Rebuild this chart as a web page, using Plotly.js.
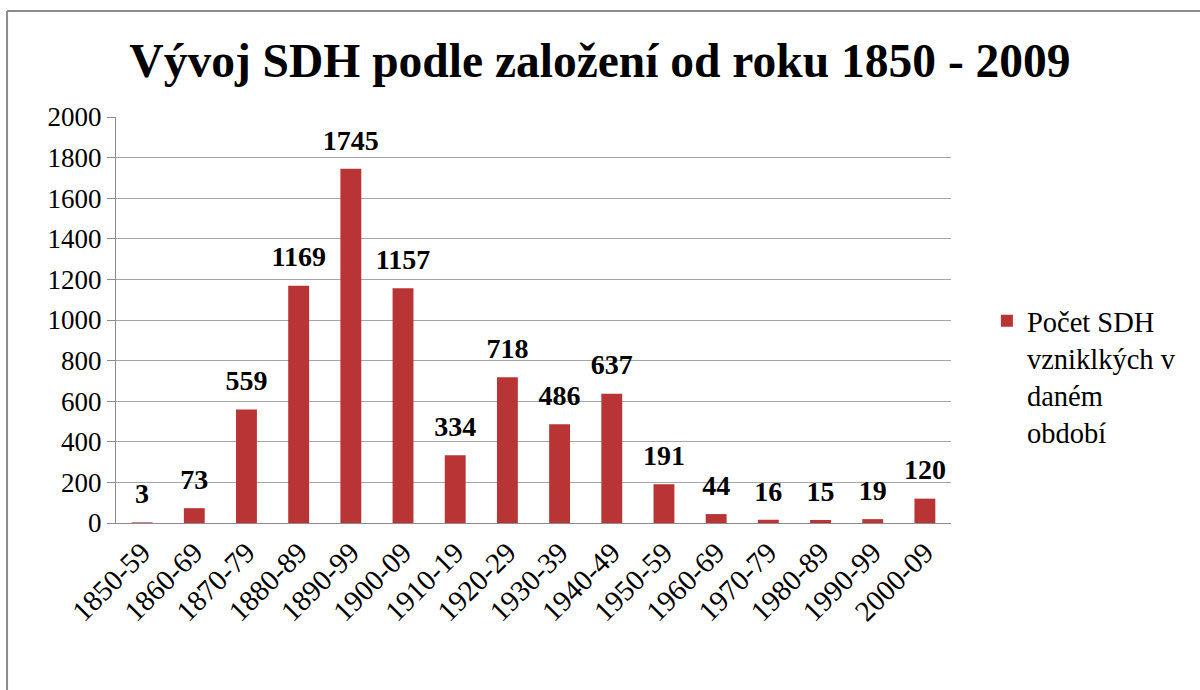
<!DOCTYPE html>
<html>
<head>
<meta charset="utf-8">
<script src="https://cdn.plot.ly/plotly-3.0.1.min.js"></script>
<style>html,body{margin:0;padding:0;background:#fff;}#chart{width:1200px;height:690px;}</style>
</head>
<body>
<div id="chart"></div>
<script>
var categories = ["1850-59","1860-69","1870-79","1880-89","1890-99","1900-09","1910-19","1920-29","1930-39","1940-49","1950-59","1960-69","1970-79","1980-89","1990-99","2000-09"];
var counts = [3, 73, 559, 1169, 1745, 1157, 334, 718, 486, 637, 191, 44, 16, 15, 19, 120];
var seriesName = "Počet SDH<br>vzniklkých v<br>daném<br>období";
var yTicks = [0, 200, 400, 600, 800, 1000, 1200, 1400, 1600, 1800, 2000];

var serif = "Liberation Serif";

var bars = {
  type: "bar",
  x: categories,
  y: counts,
  name: seriesName,
  marker: {color: "#b83435", line: {width: 0}},
  showlegend: true
};

var labels = {
  type: "scatter",
  mode: "markers+text",
  x: categories,
  y: counts,
  text: counts.map(String),
  textposition: "top center",
  cliponaxis: false,
  textfont: {family: serif, size: 28, color: "#000", weight: "bold"},
  marker: {size: 18, color: "rgba(0,0,0,0)"},
  showlegend: false,
  hoverinfo: "skip"
};

var layout = {
  width: 1200, height: 690,
  font: {family: serif, size: 27, color: "#000"},
  paper_bgcolor: "#fff", plot_bgcolor: "#fff",
  margin: {l: 116, r: 249, t: 117, b: 167},
  title: {text: "<b>Vývoj SDH podle založení od roku 1850 - 2009</b>",
          font: {family: serif, size: 47.5, color: "#000"},
          x: 0.5, xanchor: "center", y: 0.913, yanchor: "middle"},
  bargap: 0.6,
  xaxis: {
    type: "category",
    range: [-0.5, 15.5],
    tickangle: -45,
    tickfont: {family: serif, size: 29, color: "#000"},
    showgrid: false,
    showline: true, linecolor: "#8c8c8c", linewidth: 1,
    ticks: "", zeroline: false
  },
  yaxis: {
    range: [0, 2000],
    tickvals: yTicks,
    ticktext: yTicks.map(String),
    tickfont: {family: serif, size: 27, color: "#000"},
    showgrid: true, gridcolor: "#a6a6a6", gridwidth: 1,
    showline: true, linecolor: "#8c8c8c", linewidth: 1,
    ticks: "outside", ticklen: 8, tickcolor: "#8c8c8c",
    zeroline: false
  },
  legend: {
    x: 1.043, xanchor: "left", y: 0.36, yanchor: "middle",
    valign: "top",
    font: {family: serif, size: 28.5, color: "#000"},
    itemwidth: 30
  },
  shapes: [
    {type: "line", xref: "paper", yref: "paper", x0: -0.1305, x1: 1.3, y0: 1.261, y1: 1.261,
     line: {color: "#8c8c8c", width: 2}},
    {type: "line", xref: "paper", yref: "paper", x0: -0.1305, x1: -0.1305, y0: 1.261, y1: -0.42,
     line: {color: "#8c8c8c", width: 2}}
  ]
};

Plotly.newPlot("chart", [bars, labels], layout, {displayModeBar: false, staticPlot: true});
</script>
</body>
</html>
